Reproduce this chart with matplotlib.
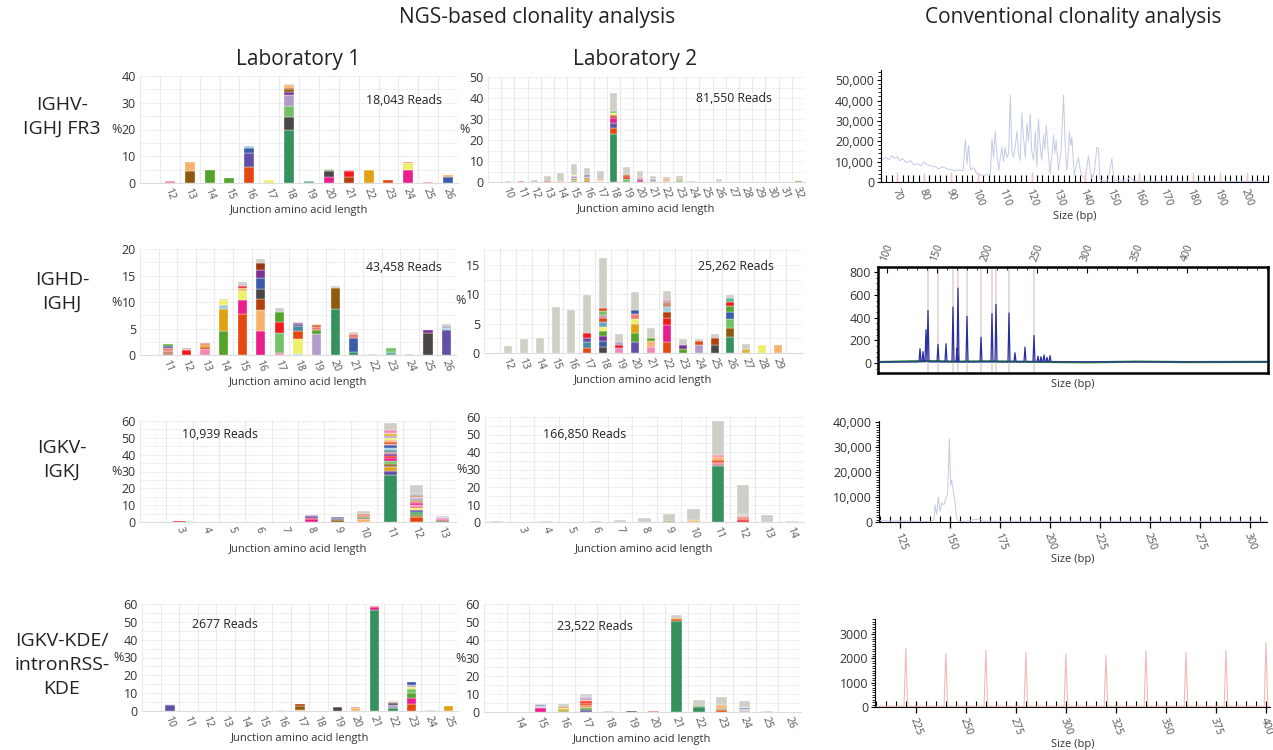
import numpy as np
import matplotlib.pyplot as plt
from matplotlib.ticker import MultipleLocator, FuncFormatter

plt.rcParams['font.family'] = ['Open Sans', 'DejaVu Sans']

W, H = 1273, 750

# clone colours used in the stacked bars
PAL = {'G': '#35925f', 'dk': '#4b4646', 'lg': '#74c267', 'lav': '#b39ccb', 'pur': '#7d2f97',
       'brn': '#8e5a0c', 'rust': '#b53e0b', 'org': '#e5480f', 'peach': '#f9b26e', 'mg': '#ea1d8c',
       'red': '#f21a1a', 'yel': '#eef06a', 'gold': '#e1a113', 'blu': '#3b5ca8', 'ind': '#634fa6',
       'teal': '#4a8a9e', 'ltblue': '#9fcfdc', 'pink': '#f486b8', 'olive': '#55a32a', 'grey': '#cfcfc7',
       'sal': '#f27a70', 'tan': '#c98d78', 'mauve': '#c793a6', 'paleb': '#d5dcf0', 'palg': '#c4e5b5',
       'mint': '#6bb48f', 'sky': '#6aa3c9', 'khaki': '#d9b445', 'rust2': '#9a3512'}

# ---- NGS data: junction lengths and stacked clone percentages ----
r1_lab1_cats = [''] + [str(i) for i in range(12, 27)]
r1_lab1_stacks = [
    [], [(0.8, 'pink')], [(4.5, 'brn'), (3.4, 'peach')], [(5.0, 'olive')], [(1.8, 'olive')],
    [(5.8, 'org'), (5.4, 'ind'), (2.0, 'blu'), (0.8, 'ltblue')], [(1.3, 'yel')],
    [(20.0, 'G'), (4.5, 'dk'), (4.1, 'lg'), (4.4, 'lav'), (1.2, 'pur'), (0.8, 'brn'), (0.7, 'rust'), (0.8, 'peach'), (0.5, 'grey')],
    [(0.6, 'mint'), (0.3, 'grey')], [(2.4, 'mg'), (2.1, 'dk'), (0.5, 'olive'), (0.3, 'grey')],
    [(2.3, 'rust'), (2.1, 'red'), (0.3, 'pink')], [(4.7, 'gold'), (0.2, 'grey')], [(1.2, 'org')],
    [(4.8, 'mg'), (2.5, 'yel'), (0.6, 'sal')], [(0.5, 'pink')], [(2.4, 'blu'), (0.5, 'peach')]]

r1_lab2_cats = [''] + [str(i) for i in range(10, 33)]
r1_lab2_stacks = [
    [], [(0.3, 'grey')], [(0.6, 'sal')], [(1.1, 'grey')], [(0.5, 'org'), (2.3, 'grey')],
    [(0.5, 'peach'), (3.8, 'grey')],
    [(0.5, 'olive'), (0.5, 'gold'), (0.6, 'blu'), (0.5, 'peach'), (0.5, 'ind'), (0.4, 'lav'), (0.5, 'yel'), (5.2, 'grey')],
    [(0.6, 'brn'), (0.6, 'gold'), (0.6, 'blu'), (0.4, 'peach'), (0.6, 'ind'), (0.3, 'pur'), (3.6, 'grey')],
    [(0.3, 'yel'), (0.6, 'grey'), (0.5, 'sal'), (3.6, 'grey')],
    [(23.0, 'G'), (2.5, 'org'), (2.5, 'ind'), (2.5, 'mg'), (0.8, 'rust'), (0.6, 'red'), (0.8, 'yel'), (1.0, 'lg'), (8.6, 'grey')],
    [(1.2, 'lg'), (1.2, 'red'), (0.8, 'org'), (4.1, 'grey')],
    [(0.8, 'mg'), (0.6, 'ind'), (0.6, 'sal'), (0.4, 'pink'), (2.9, 'grey')],
    [(0.4, 'lg'), (0.6, 'ind'), (0.6, 'lav'), (1.4, 'grey')],
    [(0.5, 'peach'), (0.4, 'gold'), (0.4, 'sal'), (1.0, 'grey')],
    [(0.5, 'olive'), (0.6, 'lg'), (0.4, 'sal'), (1.5, 'grey')],
    [(0.5, 'grey')], [(0.1, 'grey')], [(0.5, 'peach'), (0.9, 'grey')],
    [(0.15, 'grey')], [(0.15, 'grey')], [(0.15, 'grey')], [(0.15, 'grey')], [(0.15, 'grey')],
    [(0.5, 'olive')]]

r2_lab1_cats = [''] + [str(i) for i in range(11, 27)]
r2_lab1_stacks = [
    [], [(0.8, 'tan'), (0.6, 'sal'), (0.3, 'blu'), (0.3, 'olive'), (0.1, 'grey')],
    [(0.85, 'red'), (0.2, 'peach'), (0.25, 'lav')],
    [(1.1, 'pink'), (0.4, 'org'), (0.3, 'gold'), (0.4, 'sal'), (0.1, 'grey')],
    [(4.5, 'olive'), (4.2, 'gold'), (0.8, 'ltblue'), (0.8, 'yel'), (0.2, 'grey')],
    [(7.8, 'org'), (2.6, 'mg'), (1.6, 'yel'), (0.6, 'peach'), (0.5, 'red'), (0.7, 'grey')],
    [(4.6, 'mg'), (3.9, 'peach'), (2.1, 'rust'), (1.9, 'dk'), (2.1, 'blu'), (1.5, 'pur'), (1.2, 'rust2'), (0.9, 'grey')],
    [(0.3, 'pink'), (3.9, 'lg'), (2.0, 'red'), (1.9, 'olive'), (0.8, 'grey')],
    [(0.15, 'ltblue'), (2.85, 'yel'), (1.5, 'org'), (0.9, 'teal'), (0.4, 'ind'), (0.3, 'pur'), (0.1, 'grey')],
    [(4.0, 'lav'), (0.8, 'olive'), (0.5, 'sal'), (0.3, 'org'), (0.2, 'grey')],
    [(8.6, 'G'), (4.1, 'brn'), (0.3, 'grey')],
    [(0.55, 'G'), (2.65, 'blu'), (0.7, 'sal'), (0.4, 'grey')],
    [(0.2, 'palg')], [(0.5, 'mint'), (0.8, 'lg')], [(0.1, 'grey')],
    [(4.1, 'dk'), (0.6, 'pur')], [(4.7, 'ind'), (0.4, 'ltblue'), (0.4, 'lav'), (0.3, 'grey')]]

r2_lab2_cats = [''] + [str(i) for i in range(12, 30)] + ['']
r2_lab2_stacks = [
    [], [(1.2, 'grey')], [(2.3, 'grey')], [(2.6, 'grey')], [(7.9, 'grey')], [(7.3, 'grey')],
    [(0.9, 'org'), (1.0, 'teal'), (0.7, 'ind'), (0.8, 'red'), (6.5, 'grey')],
    [(1.0, 'dk'), (1.0, 'blu'), (0.9, 'pur'), (0.8, 'olive'), (0.8, 'yel'), (0.8, 'sky'), (0.6, 'org'), (0.6, 'mauve'), (0.6, 'lg'), (0.5, 'org'), (8.5, 'grey')],
    [(0.8, 'pink'), (0.6, 'red'), (0.5, 'lav'), (1.4, 'grey')],
    [(1.9, 'ind'), (1.5, 'olive'), (1.5, 'gold'), (0.9, 'yel'), (0.9, 'sal'), (0.6, 'blu'), (3.0, 'grey')],
    [(1.0, 'pink'), (1.0, 'peach'), (0.6, 'olive'), (1.6, 'grey')],
    [(1.9, 'org'), (2.9, 'mg'), (1.1, 'red'), (1.0, 'rust'), (0.9, 'ltblue'), (0.8, 'tan'), (0.5, 'mauve'), (1.4, 'grey')],
    [(0.7, 'olive'), (0.6, 'pur'), (1.0, 'grey')],
    [(1.4, 'lav'), (0.6, 'org'), (0.4, 'grey')],
    [(1.4, 'dk'), (1.2, 'rust'), (0.7, 'grey')],
    [(2.8, 'G'), (1.4, 'brn'), (1.6, 'lg'), (1.1, 'blu'), (1.1, 'olive'), (0.7, 'red'), (0.7, 'mint'), (0.5, 'grey')],
    [(0.6, 'khaki'), (1.0, 'grey')], [(1.3, 'yel'), (0.1, 'grey')], [(1.3, 'peach')], []]

r3_lab1_cats = [''] + [str(i) for i in range(3, 14)]
r3_lab1_stacks = [
    [], [(0.7, 'red')], [], [], [], [(0.2, 'grey')],
    [(2.0, 'mg'), (0.6, 'red'), (0.8, 'ind'), (0.6, 'lav')],
    [(1.0, 'brn'), (0.9, 'dk'), (0.6, 'blu'), (0.5, 'ind')],
    [(1.8, 'peach'), (0.4, 'dk'), (0.8, 'olive'), (1.0, 'sal'), (1.0, 'org'), (1.3, 'grey')],
    [(28.0, 'G'), (2.5, 'ind'), (2.0, 'gold'), (1.0, 'dk'), (1.0, 'brn'), (1.5, 'lg'), (2.0, 'mg'), (1.0, 'red'),
     (1.5, 'pur'), (1.0, 'tan'), (1.5, 'teal'), (1.0, 'ltblue'), (1.5, 'blu'), (1.0, 'sal'), (1.0, 'org'),
     (1.0, 'peach'), (1.5, 'yel'), (1.0, 'lav'), (1.0, 'gold'), (1.0, 'peach'), (1.5, 'pink'), (4.1, 'grey')],
    [(3.0, 'org'), (0.5, 'rust'), (1.5, 'olive'), (1.0, 'G'), (1.0, 'ind'), (1.2, 'yel'), (1.0, 'red'), (1.0, 'pink'),
     (1.0, 'mg'), (1.0, 'sal'), (0.8, 'olive'), (1.0, 'lav'), (1.0, 'peach'), (1.0, 'tan'), (1.0, 'ltblue'), (4.8, 'grey')],
    [(0.6, 'dk'), (0.8, 'rust'), (1.1, 'pink'), (0.7, 'ltblue'), (0.6, 'grey')]]

r3_lab2_cats = [''] + [str(i) for i in range(3, 15)]
r3_lab2_stacks = [
    [(0.3, 'grey')], [(0.1, 'grey')], [(0.8, 'palg')], [], [(0.6, 'grey')], [(1.3, 'grey')], [(2.2, 'grey')],
    [(0.5, 'olive'), (4.0, 'grey')], [(0.5, 'gold'), (0.6, 'peach'), (6.5, 'grey')],
    [(32.0, 'G'), (0.7, 'ind'), (0.8, 'sal'), (1.0, 'red'), (1.2, 'org'), (1.5, 'peach'), (1.0, 'pink'), (19.6, 'grey')],
    [(1.0, 'red'), (0.8, 'org'), (0.8, 'sal'), (0.6, 'lav'), (0.6, 'peach'), (0.6, 'ltblue'), (16.9, 'grey')],
    [(4.0, 'grey')], [(0.8, 'grey')]]

r4_lab1_cats = [''] + [str(i) for i in range(10, 26)]
r4_lab1_stacks = [
    [], [(3.6, 'ind'), (0.3, 'paleb')], [], [], [], [], [], [(0.4, 'paleb')],
    [(0.3, 'peach'), (2.4, 'brn'), (1.0, 'rust')], [], [(2.0, 'dk'), (0.3, 'grey')],
    [(1.6, 'peach'), (0.6, 'sal')], [(56.5, 'G'), (1.7, 'mg'), (0.5, 'sal')],
    [(1.8, 'G'), (1.6, 'lav'), (1.0, 'dk'), (0.6, 'tan'), (0.8, 'grey')],
    [(4.0, 'org'), (3.5, 'mg'), (2.8, 'olive'), (2.2, 'lg'), (1.2, 'yel'), (0.8, 'lav'), (1.5, 'blu')],
    [(0.4, 'grey')], [(2.6, 'gold')]]

r4_lab2_cats = [''] + [str(i) for i in range(14, 27)]
r4_lab2_stacks = [
    [], [], [(2.3, 'mg'), (0.7, 'pink'), (0.5, 'ltblue'), (0.3, 'blu'), (0.8, 'grey')],
    [(0.6, 'olive'), (1.0, 'gold'), (0.6, 'yel'), (0.6, 'org'), (1.5, 'grey')],
    [(1.0, 'ind'), (1.0, 'olive'), (1.0, 'gold'), (1.0, 'sal'), (1.0, 'org'), (1.0, 'red'), (0.8, 'peach'),
     (0.8, 'lav'), (0.8, 'pink'), (0.6, 'ltblue'), (1.2, 'grey')],
    [(0.7, 'grey')], [(0.8, 'dk')], [(0.5, 'sal')], [(50.8, 'G'), (0.7, 'org'), (0.5, 'gold'), (2.0, 'grey')],
    [(2.8, 'G'), (0.5, 'olive'), (3.5, 'grey')],
    [(1.0, 'org'), (0.7, 'olive'), (0.8, 'sal'), (1.5, 'peach'), (4.5, 'grey')],
    [(0.4, 'lav'), (1.2, 'grey'), (0.4, 'blu'), (0.6, 'grey'), (0.4, 'lg'), (3.2, 'grey')],
    [(0.4, 'grey')], []]

reads = ['18,043 Reads', '81,550 Reads', '43,458 Reads', '25,262 Reads',
         '10,939 Reads', '166,850 Reads', '2677 Reads', '23,522 Reads']

# ---- conventional (GeneScan) traces ----
conv1_bp = [64, 65.5, 67, 68, 69, 70, 71, 72, 73.5, 75, 76, 77.5, 79, 80, 81, 82.5, 84, 85.5, 87, 88.5, 90, 91.5,
            93, 94.5, 95.4, 96, 96.6, 97.3, 98.5, 99.7, 101, 102.5, 104, 104.7, 105.3, 105.9, 106.5, 107.2, 107.8,
            108.4, 109, 109.6, 110.2, 110.8, 111.5, 112.1, 112.7, 113.3, 114, 114.6, 115.2, 115.8, 116.4, 117,
            117.7, 118.3, 118.9, 119.5, 120.1, 120.8, 121.4, 122, 122.6, 123.2, 123.8, 124.5, 125, 125.5, 126.2,
            126.9, 127.5, 128.2, 128.7, 129.2, 130, 131, 131.9, 132.5, 133.1, 133.6, 134.1, 134.6, 135, 135.9,
            136.7, 137.5, 138.1, 138.7, 140, 141.2, 141.8, 142.4, 143.4, 144.3, 144.9, 145.5, 147, 148.5, 149.9,
            150.7, 152, 154, 155.4, 156.7, 158, 170, 190, 208]
conv1_val = [10500, 12000, 11000, 13000, 11500, 12500, 10500, 11500, 9500, 10500, 8500, 9000, 8000, 10000, 8500,
             8000, 7500, 6500, 7500, 6500, 6000, 5500, 6000, 5500, 20800, 9000, 18000, 6000, 7000, 4000, 3500,
             3000, 4000, 3500, 21000, 12000, 25000, 12000, 5700, 12000, 17000, 10000, 17000, 12000, 14000, 42600,
             15000, 12000, 18000, 25000, 14000, 10600, 34000, 22000, 12000, 28700, 20000, 33600, 15000, 10600,
             25000, 7400, 31000, 18000, 10600, 23000, 16000, 28000, 15000, 4000, 12000, 23000, 14000, 20500, 5700,
             15000, 42600, 20000, 5700, 12000, 24600, 18000, 22000, 3300, 8000, 12000, 6000, 3300, 2000, 13000,
             6000, 1600, 5000, 17000, 16500, 800, 500, 1000, 11500, 600, 800, 600, 900, 2500, 500, 300, 300, 300]
conv1_std_bp = [70, 80, 90, 100, 120, 140, 160, 180, 190, 200]
conv1_std_val = [4800, 4600, 4800, 4700, 4900, 4700, 4800, 4700, 4800, 4800]

conv2_peak_bp = [133, 136, 139, 141, 151, 159, 166, 170, 171, 180, 194, 205, 209, 222, 228, 238, 247,
                 251, 254, 257, 260, 263]
conv2_peak_val = [126, 100, 293, 463, 164, 170, 492, 130, 659, 410, 226, 434, 516, 440, 90, 140, 243,
                  60, 55, 70, 50, 65]
conv2_marker_bp = [141, 151, 166, 171, 180, 194, 205, 209, 222, 247]
conv2_green_bp = [91, 140, 170, 200, 250, 300, 350, 400, 481]
conv2_green_val = [8, 18, 12, 15, 10, 6, 12, 8, 10]

conv3_bp = [114.5, 130, 140, 142, 142.5, 143.3, 144.2, 145, 145.8, 147, 148, 148.8, 149.7, 150.3, 150.8, 151.7,
            152.5, 153.3, 154.2, 158, 161.7, 163, 165, 167, 180, 200, 250, 308.5]
conv3_val = [600, 300, 200, 800, 6900, 3000, 10000, 4200, 7500, 6900, 10000, 10900, 33400, 14800, 16800, 12200,
             8200, 1600, 200, 300, 900, 1100, 900, 300, 300, 300, 300, 300]

conv4_peak_bp = [220, 240, 260, 280, 300, 320, 340, 360, 380, 400]
conv4_peak_val = [2420, 2210, 2350, 2240, 2170, 2115, 2310, 2240, 2340, 2650]


fig = plt.figure(figsize=(W / 100, H / 100), dpi=100)


def rect(l, t, r, b):
    return [l / W, 1 - b / H, (r - l) / W, (b - t) / H]


def ftext(x, y, s, **kw):
    fig.text(x / W, 1 - y / H, s, **kw)


TXT = '#333333'
ROT = -70


def ngs_panel(box, cats, stacks, ymax, ystep, gstep, reads_txt, reads_pos):
    l, t, r, b = box
    ax = fig.add_axes(rect(l, t, r, b))
    for i, stack in enumerate(stacks):
        bottom = 0
        for val, key in stack:
            ax.bar(i, val, 0.5, bottom=bottom, color=PAL[key], edgecolor='white', linewidth=0.25, zorder=3)
            bottom += val
    n = len(cats)
    ax.set_xlim(-0.5, n - 0.5)
    ax.set_ylim(0, ymax)
    for xb in np.arange(-0.5, n, 1):
        ax.axvline(xb, color='#ebebeb', lw=0.8, zorder=0)
    for yg in np.arange(gstep, ymax + 0.01, gstep):
        ax.axhline(yg, color='#d8d8d8', lw=0.6, ls=(0, (1, 1.5)), zorder=0)
    for s in ['top', 'right', 'left']:
        ax.spines[s].set_visible(False)
    ax.spines['bottom'].set_color('#dddddd')
    ax.set_xticks(range(n))
    ax.set_xticklabels(cats, rotation=ROT, fontsize=7.5, color='#555555', ha='center', va='top')
    ax.set_yticks(np.arange(0, ymax + 0.01, ystep))
    ax.tick_params(axis='y', length=0, labelsize=9, labelcolor=TXT, pad=3)
    ax.tick_params(axis='x', length=0, pad=2)
    ax.set_xlabel('Junction amino acid length', fontsize=8, color=TXT, labelpad=3)
    ftext(l - 23, (t + b) / 2, '%', fontsize=9, color=TXT, ha='center', va='center')
    ftext(reads_pos[0], reads_pos[1], reads_txt, fontsize=8.8, color='#222222', ha='center', va='center')
    return ax


def conv_style(ax, xmaj, xmin, ymaj, ymin, fmt_comma=True):
    for s in ['top', 'right']:
        ax.spines[s].set_visible(False)
    ax.spines['left'].set_linewidth(0.8)
    ax.spines['bottom'].set_linewidth(0.8)
    ax.xaxis.set_major_locator(MultipleLocator(xmaj))
    ax.xaxis.set_minor_locator(MultipleLocator(xmin))
    ax.yaxis.set_major_locator(MultipleLocator(ymaj))
    ax.yaxis.set_minor_locator(MultipleLocator(ymin))
    if fmt_comma:
        ax.yaxis.set_major_formatter(FuncFormatter(lambda v, p: f'{v:,.0f}'))
    ax.tick_params(axis='y', which='major', length=3, labelsize=9, labelcolor=TXT, pad=2)
    ax.tick_params(axis='y', which='minor', length=2)
    plt.setp(ax.get_xticklabels(), rotation=ROT, ha='center', va='top', fontsize=7.5, color='#555555')
    ax.set_xlabel('Size (bp)', fontsize=8, color=TXT, labelpad=2)


def peak_trace(pos, val, half, base):
    xs, ys = [], []
    for p, v in zip(pos, val):
        xs += [p - half, p, p + half]
        ys += [base, v, base]
    return xs, ys


# headers
ftext(537, 18, 'NGS-based clonality analysis', fontsize=15, color='#222222', ha='center', va='center')
ftext(1073, 18, 'Conventional clonality analysis', fontsize=15, color='#222222', ha='center', va='center')
ftext(298, 59, 'Laboratory 1', fontsize=15, color='#222222', ha='center', va='center')
ftext(635, 59, 'Laboratory 2', fontsize=15, color='#222222', ha='center', va='center')
row_labels = ['IGHV-\nIGHJ FR3', 'IGHD-\nIGHJ', 'IGKV-\nIGKJ', 'IGKV-KDE/\nintronRSS-\nKDE']
row_label_y = [117, 292, 460, 665]
for lab, y in zip(row_labels, row_label_y):
    ftext(62, y, lab, fontsize=14, color='#222222', ha='center', va='center', linespacing=1.45)

# NGS panels
ngs_panel((140, 76, 458, 183), r1_lab1_cats, r1_lab1_stacks, 40, 10, 5, reads[0], (404, 101))
ngs_panel((488, 77, 805, 182), r1_lab2_cats, r1_lab2_stacks, 50, 10, 5, reads[1], (734, 98))
ngs_panel((140, 249, 456, 355), r2_lab1_cats, r2_lab1_stacks, 20, 5, 2.5, reads[2], (404, 268))
ngs_panel((484, 249, 802, 353), r2_lab2_cats, r2_lab2_stacks, 17.7, 5, 2.5, reads[3], (736, 267))
ngs_panel((140, 421, 456, 522), r3_lab1_cats, r3_lab1_stacks, 60, 10, 5, reads[4], (220, 435))
ngs_panel((485, 417, 804, 522), r3_lab2_cats, r3_lab2_stacks, 60, 10, 5, reads[5], (585, 435))
ngs_panel((142, 604, 458, 711), r4_lab1_cats, r4_lab1_stacks, 60, 10, 5, reads[6], (225, 625))
ngs_panel((484, 604, 801, 712), r4_lab2_cats, r4_lab2_stacks, 60, 10, 5, reads[7], (595, 627))

# conventional row 1
ax = fig.add_axes(rect(881, 70, 1268, 182))
ax.plot(conv1_bp, conv1_val, color='#c3cbe6', lw=0.7)
ax.vlines(conv1_std_bp, 0, conv1_std_val, color='#f4c4c4', lw=1.0)
ax.set_xlim(64, 208)
ax.set_ylim(0, 55000)
conv_style(ax, 10, 2, 10000, 2000)
ax.tick_params(axis='x', which='both', direction='in', length=5, width=0.8, pad=4)

# conventional row 2 (boxed plot with size scale on top)
ax = fig.add_axes(rect(878, 267, 1268, 373))
for m in conv2_marker_bp:
    ax.axvline(m, color='#e6d4d4', lw=1.2, zorder=1)
gx, gy = peak_trace(conv2_peak_bp, conv2_peak_val, 1.0, 10)
ax.plot(conv2_green_bp, conv2_green_val, color='#2e8b2e', lw=1.6, zorder=2)
ax.plot([91] + gx + [481], [10] + gy + [10], color='#2b2fa0', lw=0.9, zorder=3)
ax.set_xlim(91, 481)
ax.set_ylim(-88, 845)
for s in ax.spines.values():
    s.set_linewidth(1.8)
ax.xaxis.set_major_locator(MultipleLocator(50))
ax.xaxis.set_minor_locator(MultipleLocator(10))
ax.xaxis.set_ticks_position('top')
ax.set_xticks([100, 150, 200, 250, 300, 350, 400])
ax.yaxis.set_major_locator(MultipleLocator(200))
ax.yaxis.set_minor_locator(MultipleLocator(50))
ax.tick_params(axis='x', which='major', direction='in', length=4, width=0.8, labelsize=7.5,
               labelcolor='#555555', pad=3)
ax.tick_params(axis='x', which='minor', direction='in', length=2, width=0.6)
plt.setp(ax.get_xticklabels(), rotation=-ROT, ha='center', va='bottom')
ax.tick_params(axis='y', which='major', length=3, labelsize=9, labelcolor=TXT, pad=2)
ax.tick_params(axis='y', which='minor', length=1.5)
ax.set_xlabel('Size (bp)', fontsize=8, color=TXT)
ax.xaxis.set_label_position('bottom')

# conventional row 3
ax = fig.add_axes(rect(879, 421, 1267, 522))
ax.plot(conv3_bp, conv3_val, color='#c3cbe6', lw=0.7)
ax.set_xlim(114.5, 308.5)
ax.set_ylim(0, 40500)
conv_style(ax, 25, 5, 10000, 1000)
ax.tick_params(axis='x', which='major', direction='inout', length=9, width=0.9, pad=2)
ax.tick_params(axis='x', which='minor', direction='in', length=4, width=0.8)

# conventional row 4
ax = fig.add_axes(rect(875, 619, 1270, 707))
px, py = peak_trace(conv4_peak_bp, conv4_peak_val, 0.9, 30)
ax.plot([204.6] + px + [402], [30] + py + [30], color='#f3b9b9', lw=0.8)
ax.plot([204.6, 402], [15, 15], color='#c9cde6', lw=0.6)
ax.set_xlim(204.6, 402)
ax.set_ylim(0, 3620)
conv_style(ax, 25, 5, 1000, 100, fmt_comma=False)
ax.tick_params(axis='x', which='major', direction='inout', length=9, width=0.9, pad=2)
ax.tick_params(axis='x', which='minor', direction='in', length=4, width=0.8)

fig.savefig('out.png', dpi=100)
